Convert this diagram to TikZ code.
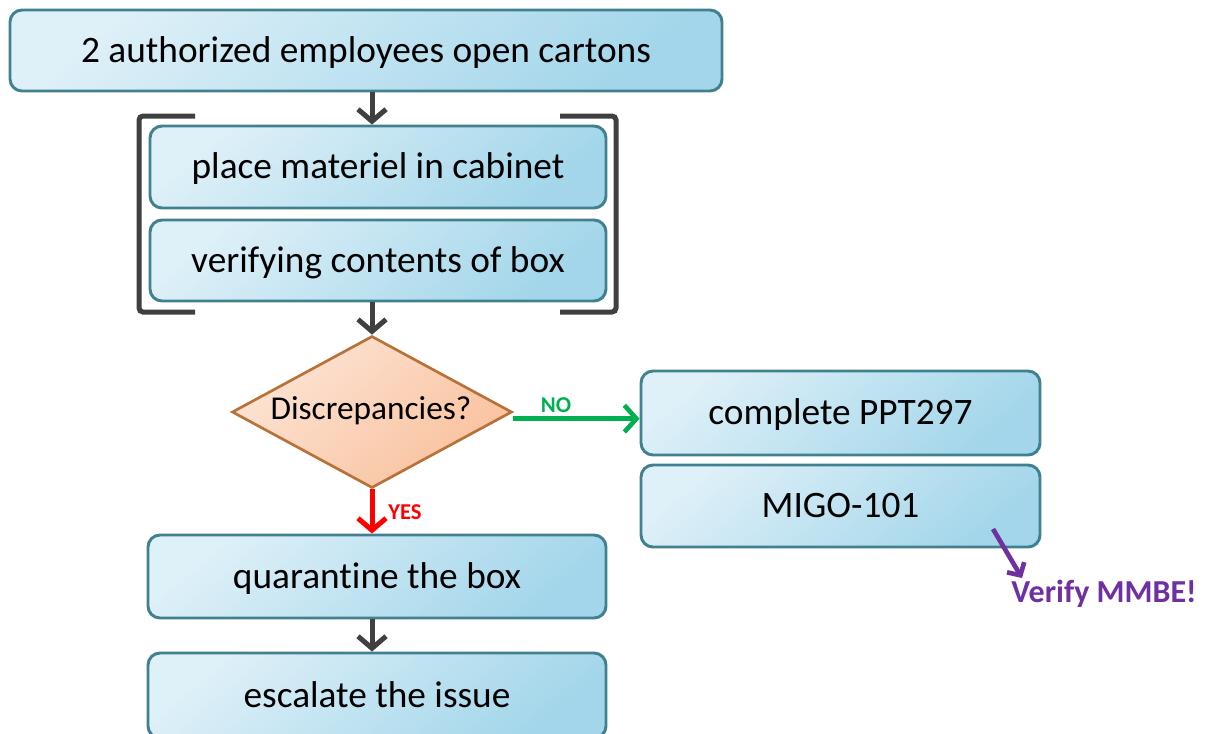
\documentclass[tikz,border=0pt]{standalone}
\usepackage{fontspec}
\setmainfont[Ligatures=NoCommon]{Carlito}
\usetikzlibrary{arrows.meta,shapes.geometric,calc}
\definecolor{boxtop}{HTML}{DEF0F8}
\definecolor{boxbot}{HTML}{A3D6EA}
\definecolor{boxline}{HTML}{41808F}
\definecolor{dtop}{HTML}{FDE4D5}
\definecolor{dbot}{HTML}{F9C19D}
\definecolor{dline}{HTML}{B87238}
\definecolor{arrgray}{HTML}{404040}
\definecolor{nogreen}{HTML}{00B050}
\definecolor{yesred}{HTML}{FF0000}
\definecolor{mmbe}{HTML}{7030A0}
\begin{document}
\begin{tikzpicture}[x=0.75pt,y=-0.75pt,
  box/.style={draw=boxline, line width=2.2pt, rounded corners=9pt,
    top color=boxtop, bottom color=boxbot, shading angle=40,
    inner sep=0pt, text=black, font=\fontsize{28}{32}\selectfont,
    text height=20.5pt, text depth=3pt},
  decision/.style={diamond, draw=dline, line width=2pt,
    top color=dtop, bottom color=dbot, shading angle=40,
    inner sep=0pt},
  dtext/.style={text=black, inner sep=0pt, font=\fontsize{25}{29}\selectfont},
  arr/.style={draw=arrgray, line width=3.75pt,
    -{Straight Barb[length=9pt,width=21pt]}},
  noarr/.style={draw=nogreen, line width=3.5pt,
    -{Straight Barb[length=9pt,width=20pt]}},
  yesarr/.style={draw=yesred, line width=3.75pt,
    -{Straight Barb[length=9pt,width=21pt]}},
  mmarr/.style={draw=mmbe, line width=3.5pt,
    -{Straight Barb[length=7pt,width=15pt]}},
  brk/.style={draw=arrgray, line width=3.75pt, rounded corners=3pt},
  lab/.style={font=\bfseries\fontsize{17}{20}\selectfont, inner sep=0pt}
]
\useasboundingbox[fill=white] (0,0) rectangle (1213,733);

\node[box, minimum width=534pt, minimum height=60.75pt] (top) at (366,50.5) {2 authorized employees open cartons};
\node[box, minimum width=342pt, minimum height=61.5pt] (b2) at (378,167) {place materiel in cabinet};
\node[box, minimum width=342pt, minimum height=60.75pt] (b3) at (378,260.5) {verifying contents of box};
\node[decision, minimum width=210pt, minimum height=114pt] (dia) at (372,412) {};
\node[dtext] (diat) at (371,411) {Discrepancies?};
\node[box, minimum width=299.25pt, minimum height=63pt] (ppt) at (840.5,413) {complete PPT297};
\node[box, minimum width=299.25pt, minimum height=61.5pt] (migo) at (840.5,506) {MIGO-101};
\node[box, minimum width=343.5pt, minimum height=62.25pt] (quar) at (377,576.5) {quarantine the box};
\node[box, minimum width=343.5pt, minimum height=63.75pt] (esc) at (377,695.5) {escalate the issue};

\node[text=mmbe, font=\bfseries\fontsize{24}{28}\selectfont, inner sep=0pt] (vm) at (1104,594) {Verify MMBE!};
\coordinate (mstart) at (993,529);
\coordinate (mend) at (1022,578);

% brackets
\draw[brk] (195,116) -- (139,116) -- (139,312) -- (195,312);
\draw[brk] (560,116) -- (616,116) -- (616,312) -- (560,312);

% connectors
\draw[arr] (top.south -| dia.north) -- (b2.north -| dia.north);
\draw[arr] (b3.south -| dia.north) -- (dia.north);
\coordinate (noS) at ([yshift=-5pt]dia.east);
\draw[noarr] (noS) -- (ppt.west |- noS);
\node[lab, text=nogreen] (nolab) at (556,405) {NO};
\draw[yesarr] (dia.south) -- (quar.north -| dia.south);
\node[lab, text=yesred] (yeslab) at (405,512) {YES};
\draw[arr] (quar.south -| dia.south) -- (esc.north -| dia.south);
\draw[mmarr] (mstart) -- (mend);
\end{tikzpicture}
\end{document}
